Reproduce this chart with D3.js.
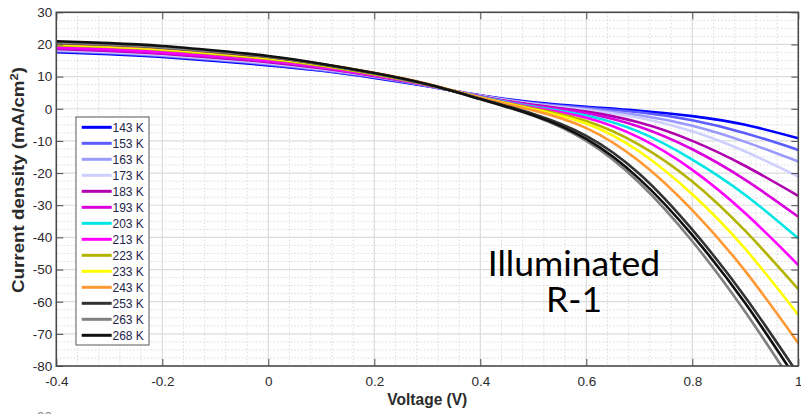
<!DOCTYPE html>
<html>
<head>
<meta charset="utf-8">
<script src="https://cdn.jsdelivr.net/npm/d3@7"></script>
<style>
  body { margin: 0; background: #fff; }
  svg { display: block; }
</style>
</head>
<body>
<svg id="chart" width="801" height="414"></svg>
<script>
// Bias voltages (V) at which each J-V curve is sampled
const voltages = [-0.4, -0.3, -0.2, -0.1, 0, 0.1, 0.2, 0.3, 0.4, 0.5, 0.6, 0.7, 0.8, 0.9, 1.0];

// Temperature labels and line colours
const temperatures = ["143 K", "153 K", "163 K", "173 K", "183 K", "193 K", "203 K",
                      "213 K", "223 K", "233 K", "243 K", "253 K", "263 K", "268 K"];
const lineColors = ["#0000ff", "#5c5cff", "#9a9aff", "#cfcfff", "#b000b0", "#dc00dc", "#00e6e6",
                    "#ff00ff", "#b3b300", "#ffff00", "#ff9933", "#333333", "#808080", "#111111"];

// Current density (mA/cm^2) per temperature
const j143 = [17.6, 17.0, 16.1, 14.9, 13.5, 11.8, 9.6, 7.0, 4.2, 2.0, 0.6, -0.6, -2.3, -5.0, -9.2];
const j153 = [17.9, 17.3, 16.4, 15.2, 13.8, 12.0, 9.8, 7.1, 4.1, 1.8, 0.3, -1.1, -3.6, -7.6, -12.8];
const j163 = [18.1, 17.5, 16.6, 15.4, 14.0, 12.2, 10.0, 7.2, 4.0, 1.6, -0.1, -2.0, -5.3, -10.3, -16.4];
const j173 = [18.3, 17.7, 16.8, 15.6, 14.2, 12.4, 10.1, 7.3, 4.0, 1.5, -0.4, -2.8, -7.0, -13.3, -21.1];
const j183 = [18.6, 18.0, 17.1, 15.9, 14.5, 12.6, 10.2, 7.3, 3.9, 1.2, -0.9, -4.3, -10.0, -17.8, -27.1];
const j193 = [18.8, 18.2, 17.3, 16.1, 14.7, 12.8, 10.3, 7.3, 3.8, 1.0, -1.4, -5.6, -12.6, -22.1, -33.6];
const j203 = [19.5, 18.8, 17.9, 16.6, 15.1, 13.1, 10.5, 7.4, 3.7, 0.7, -2.1, -7.2, -15.8, -26.8, -40.3];
const j213 = [19.2, 18.6, 17.7, 16.5, 15.0, 13.0, 10.4, 7.4, 3.6, 0.4, -2.8, -9.0, -19.0, -32.5, -48.6];
const j223 = [19.8, 19.2, 18.3, 17.0, 15.5, 13.4, 10.7, 7.5, 3.5, 0.1, -3.8, -11.2, -22.6, -38.0, -56.1];
const j233 = [20.0, 19.4, 18.5, 17.2, 15.7, 13.6, 10.9, 7.6, 3.5, -0.2, -4.6, -13.3, -26.6, -43.6, -64.1];
const j243 = [20.3, 19.7, 18.8, 17.5, 16.0, 13.9, 11.2, 7.8, 3.4, -0.5, -6.0, -16.3, -31.5, -50.5, -72.9];
const j253 = [20.5, 19.9, 19.0, 17.7, 16.1, 13.8, 11.0, 7.6, 3.1, -1.6, -8.4, -20.2, -37.6, -58.6, -82.6];
const j263 = [20.6, 20.0, 19.1, 17.8, 16.2, 13.9, 11.0, 7.6, 3.0, -2.2, -10.0, -23.0, -41.2, -63.2, -88.0];
const j268 = [21.0, 20.4, 19.5, 18.1, 16.4, 14.0, 11.1, 7.6, 3.0, -2.0, -9.4, -21.8, -39.3, -60.5, -85.0];

const currentSeries = [j143, j153, j163, j173, j183, j193, j203, j213, j223, j233, j243, j253, j263, j268];

// Axis ticks
const xTicks = [-0.4, -0.2, 0, 0.2, 0.4, 0.6, 0.8, 1.0];
const yTicks = [-80, -70, -60, -50, -40, -30, -20, -10, 0, 10, 20, 30];

const svg = d3.select("#chart");
const plotLeft = 56.3, plotRight = 798.3, plotTop = 12.3, plotBottom = 366;

const x = d3.scaleLinear().domain([-0.4, 1.0]).range([plotLeft, plotRight]);
const y = d3.scaleLinear().domain([-80, 30]).range([plotBottom, plotTop]);

const axisColor = "#4a4a4a";
const textColor = "#2b2b2b";
const fontFamily = "Arial, 'Liberation Sans', Helvetica, sans-serif";

// Grid: minor dotted, then major solid
const grid = svg.append("g");
const minorX = d3.range(0, 36).filter(i => i % 5 !== 0).map(i => -0.4 + i * 0.04);
const minorY = d3.range(0, 45).filter(i => i % 4 !== 0).map(i => -80 + i * 2.5);
grid.selectAll(".mx").data(minorX).join("line")
  .attr("x1", d => x(d)).attr("x2", d => x(d)).attr("y1", plotTop).attr("y2", plotBottom)
  .attr("stroke", "#d6d6d6").attr("stroke-width", 0.9).attr("stroke-dasharray", "1.5,2");
grid.selectAll(".my").data(minorY).join("line")
  .attr("x1", plotLeft).attr("x2", plotRight).attr("y1", d => y(d)).attr("y2", d => y(d))
  .attr("stroke", "#d6d6d6").attr("stroke-width", 0.9).attr("stroke-dasharray", "1.5,2");
grid.selectAll(".gx").data(xTicks.slice(1, -1)).join("line")
  .attr("x1", d => x(d)).attr("x2", d => x(d)).attr("y1", plotTop).attr("y2", plotBottom)
  .attr("stroke", "#dcdcdc").attr("stroke-width", 1.2);
grid.selectAll(".gy").data(yTicks.slice(1, -1)).join("line")
  .attr("x1", plotLeft).attr("x2", plotRight).attr("y1", d => y(d)).attr("y2", d => y(d))
  .attr("stroke", "#dcdcdc").attr("stroke-width", 1.2);

// Curves, clipped to the plot box
svg.append("clipPath").attr("id", "plotClip")
  .append("rect").attr("x", plotLeft).attr("y", plotTop)
  .attr("width", plotRight - plotLeft).attr("height", plotBottom - plotTop);

const line = d3.line()
  .x((d, i) => x(voltages[i]))
  .y(d => y(d))
  .curve(d3.curveNatural);

svg.append("g").attr("clip-path", "url(#plotClip)")
  .selectAll("path").data(currentSeries).join("path")
  .attr("d", d => line(d))
  .attr("fill", "none")
  .attr("stroke", (d, i) => lineColors[i])
  .attr("stroke-width", 2.6)
  .attr("stroke-linejoin", "round");

// Axes (ticks point inward, box drawn separately)
const fmtX = d => String(+d.toFixed(1));
const styleAxis = g => {
  g.select(".domain").remove();
  g.selectAll(".tick line").attr("stroke", axisColor).attr("stroke-width", 1);
  g.selectAll(".tick text").attr("fill", textColor).attr("font-size", "13.5px")
    .attr("font-family", fontFamily);
};

svg.append("g").attr("transform", `translate(0,${plotBottom})`)
  .call(d3.axisBottom(x).tickValues(xTicks).tickFormat(fmtX).tickSizeInner(-7).tickSizeOuter(0).tickPadding(10))
  .call(styleAxis);
svg.append("g").attr("transform", `translate(0,${plotTop})`)
  .call(d3.axisTop(x).tickValues(xTicks).tickFormat("").tickSizeInner(-7).tickSizeOuter(0))
  .call(styleAxis);
svg.append("g").attr("transform", `translate(${plotLeft},0)`)
  .call(d3.axisLeft(y).tickValues(yTicks).tickFormat(d => String(d)).tickSizeInner(-7).tickSizeOuter(0).tickPadding(4))
  .call(styleAxis);
svg.append("g").attr("transform", `translate(${plotRight},0)`)
  .call(d3.axisRight(y).tickValues(yTicks).tickFormat("").tickSizeInner(-7).tickSizeOuter(0))
  .call(styleAxis);

svg.append("rect")
  .attr("x", plotLeft).attr("y", plotTop)
  .attr("width", plotRight - plotLeft).attr("height", plotBottom - plotTop)
  .attr("fill", "none").attr("stroke", axisColor).attr("stroke-width", 1.6);

// Axis titles
const xTitle = svg.append("text")
  .attr("font-family", fontFamily).attr("font-weight", "bold").attr("font-size", "16px")
  .attr("fill", textColor).attr("text-anchor", "middle")
  .text("Voltage (V)");
{
  const w = xTitle.node().getComputedTextLength();
  xTitle.attr("transform", `translate(${(plotLeft + plotRight) / 2},405) scale(${80 / w},1.05)`);
}

const yTitle = svg.append("text")
  .attr("font-family", fontFamily).attr("font-weight", "bold").attr("font-size", "16px")
  .attr("fill", textColor).attr("text-anchor", "middle");
yTitle.append("tspan").text("Current density (mA/cm");
yTitle.append("tspan").attr("font-size", "11px").attr("dy", "-6").text("2");
yTitle.append("tspan").attr("dy", "6").text(")");
{
  const w = yTitle.node().getBBox().width;
  yTitle.attr("transform", `translate(24,180) rotate(-90) scale(${226 / w},1)`);
}

// Legend
const legend = svg.append("g");
legend.append("rect")
  .attr("x", 76).attr("y", 117).attr("width", 73).attr("height", 228)
  .attr("fill", "#fff").attr("stroke", "#5a5a5a").attr("stroke-width", 1);
const entry = legend.selectAll(".entry").data(temperatures).join("g")
  .attr("transform", (d, i) => `translate(0,${127.3 + i * 16})`);
entry.append("line")
  .attr("x1", 81.7).attr("x2", 111.7).attr("y1", 0).attr("y2", 0)
  .attr("stroke", (d, i) => lineColors[i]).attr("stroke-width", 3);
entry.append("text")
  .attr("x", 112.5).attr("y", 4.3)
  .attr("font-family", fontFamily).attr("font-size", "12px").attr("fill", "#22244a")
  .text(d => d);

// Annotation
const note = svg.append("g")
  .attr("font-family", "Lato, 'Open Sans', sans-serif").attr("font-size", "35.5px")
  .attr("fill", "#000").attr("text-anchor", "middle");
note.append("text").attr("x", 574).attr("y", 276).text("Illuminated");
note.append("text").attr("x", 574).attr("y", 312).text("R-1");

// Neighbouring tick label peeking in at the bottom edge
svg.append("text")
  .attr("x", 52).attr("y", 421).attr("text-anchor", "end")
  .attr("font-family", fontFamily).attr("font-size", "13.5px").attr("fill", "#8a8a8a")
  .text("-90");
</script>
</body>
</html>
